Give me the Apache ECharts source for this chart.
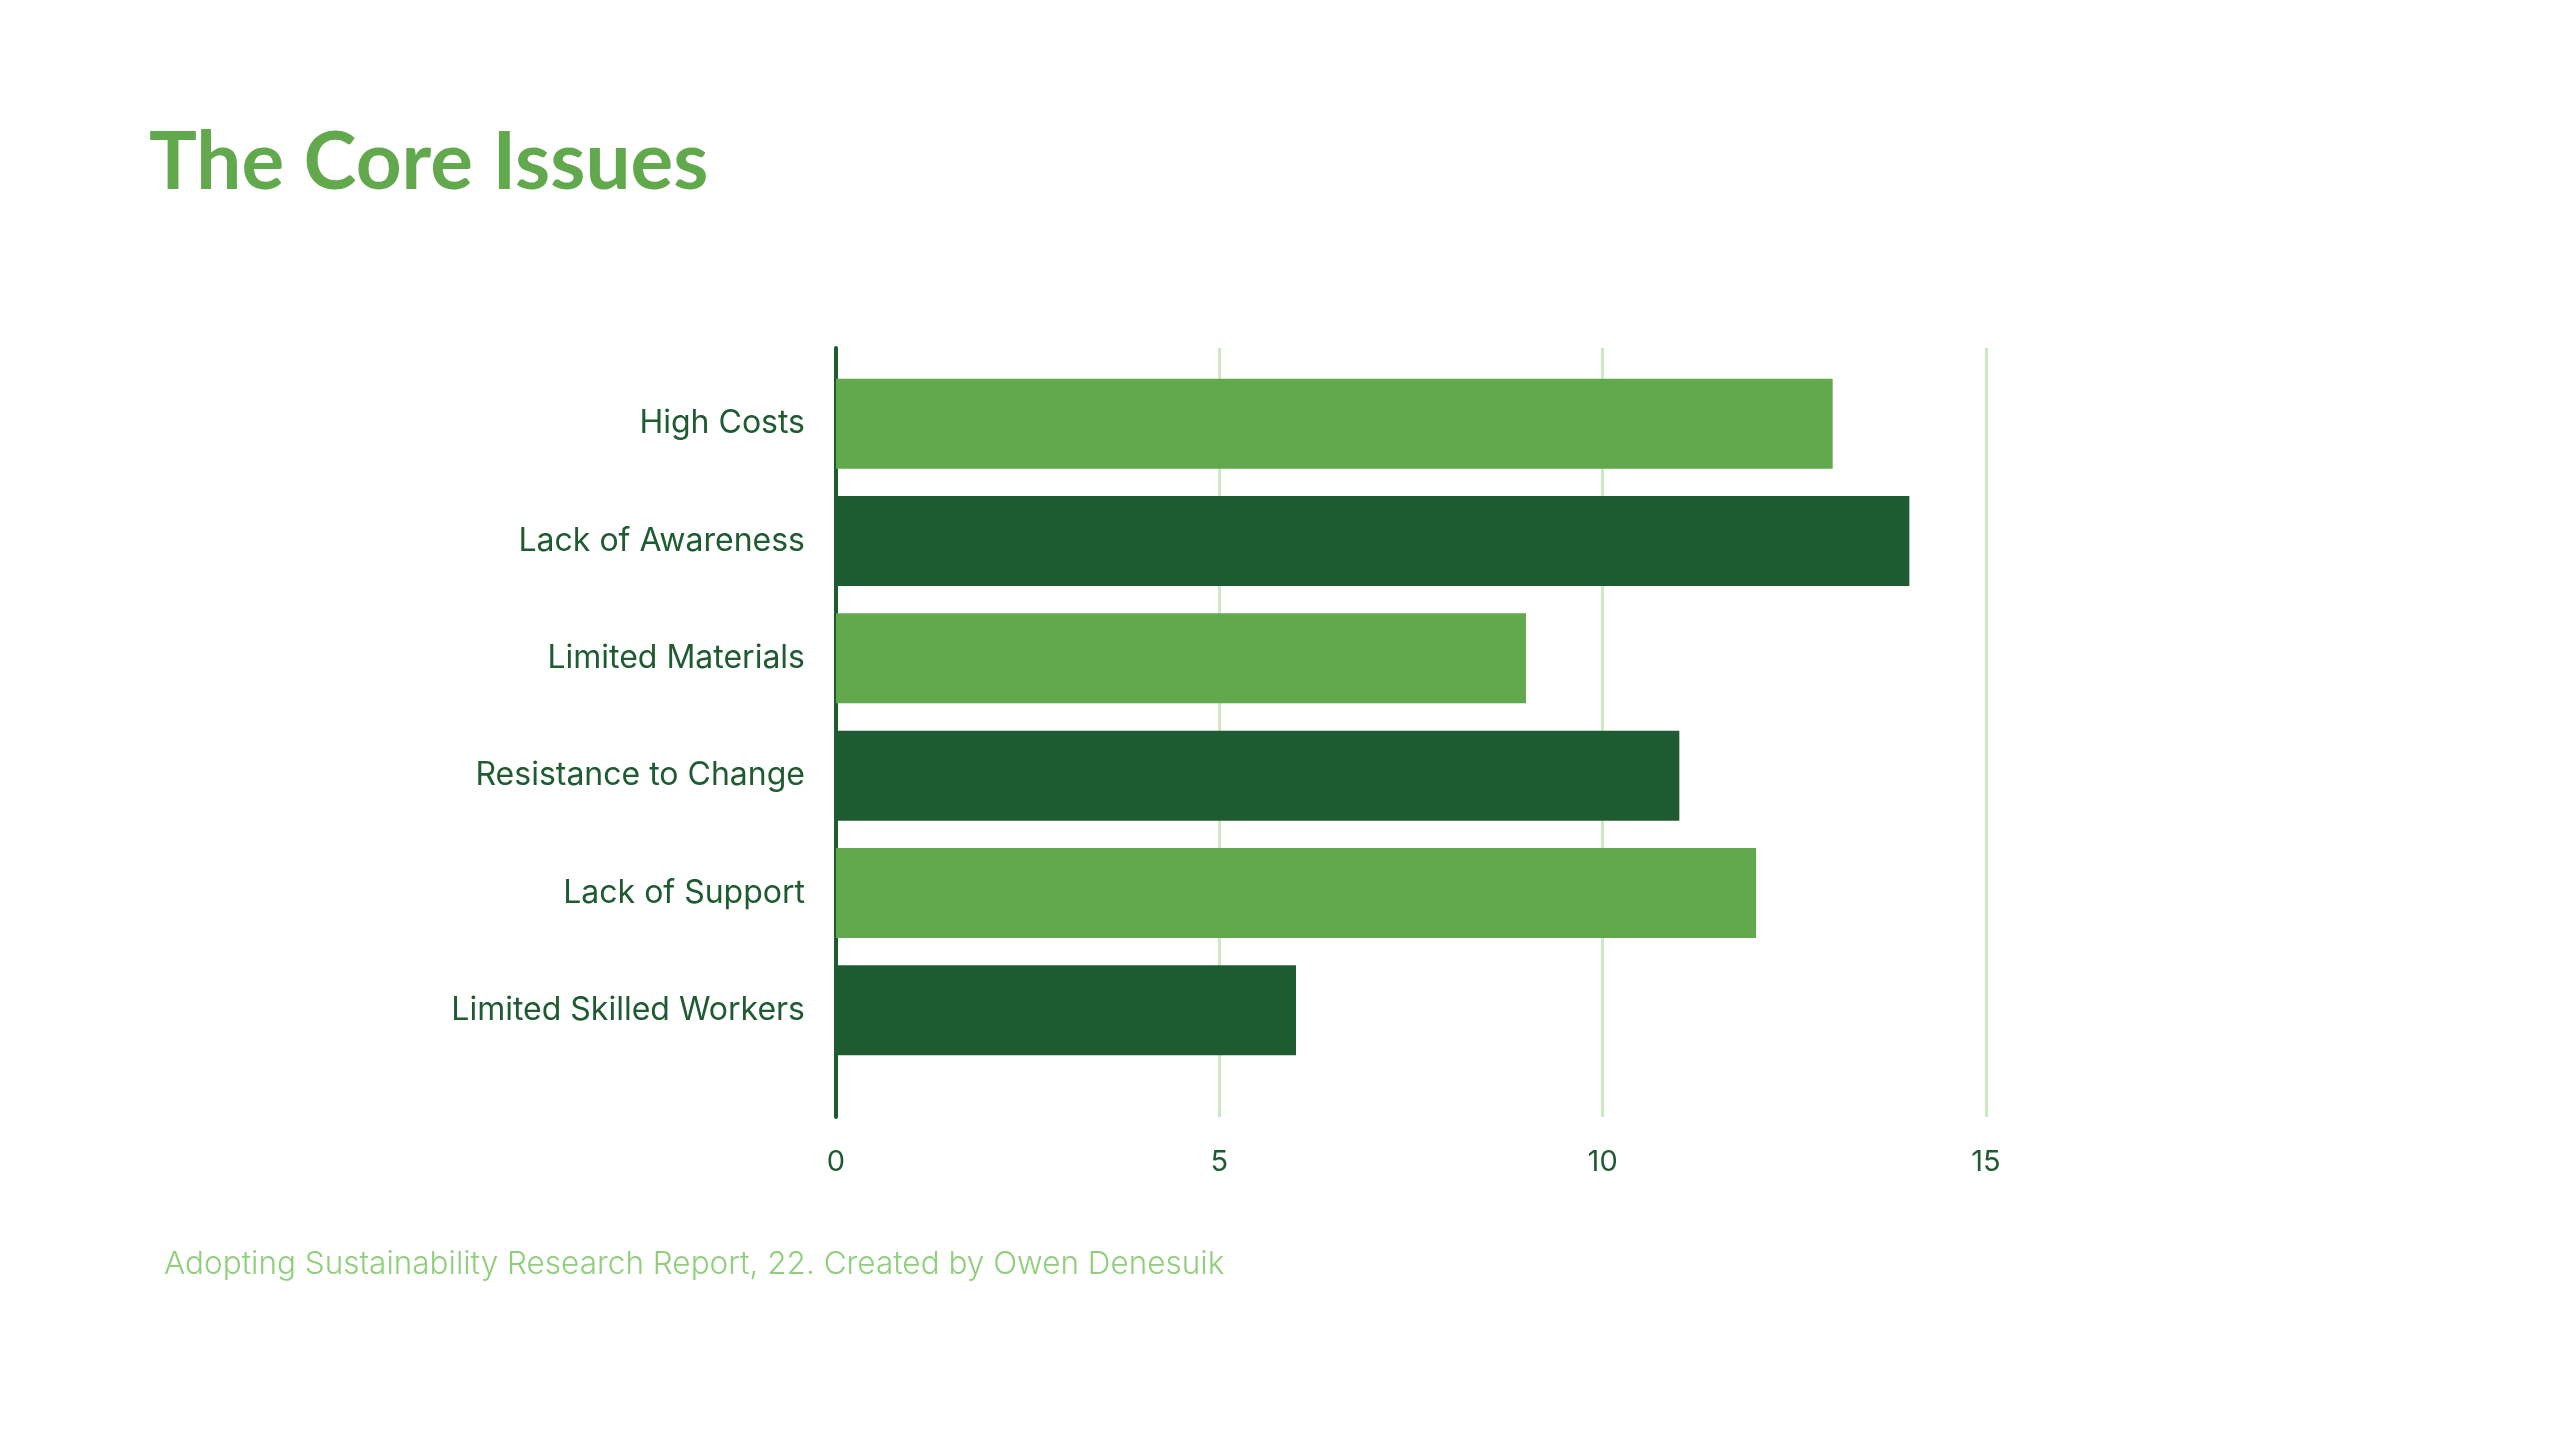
<!DOCTYPE html>
<html>
<head>
<meta charset="utf-8">
<script src="https://cdn.jsdelivr.net/npm/echarts@6/dist/echarts.min.js"></script>
<style>
  html, body { margin: 0; padding: 0; background: #ffffff; }
  #chart { width: 2560px; height: 1440px; }
</style>
</head>
<body>
<div id="chart"></div>
<script>
// data
const categories = ['High Costs', 'Lack of Awareness', 'Limited Materials',
    'Resistance to Change', 'Lack of Support', 'Limited Skilled Workers'];
const values = [13, 14, 9, 11, 12, 6];
const xTicks = [0, 5, 10, 15];

const lightGreen = '#62a94d';
const darkGreen = '#1e5b30';

const chart = echarts.init(document.getElementById('chart'));
const option = {
    backgroundColor: '#ffffff',
    animation: false,
    title: [{
        text: 'The Core Issues',
        left: 144,
        top: 118,
        textStyle: {
            fontFamily: 'Lato',
            fontWeight: 700,
            fontSize: 80,
            color: '#62a94d'
        }
    }, {
        text: 'Adopting Sustainability Research Report, 22. Created by Owen Denesuik',
        left: 159,
        top: 1244,
        textStyle: {
            fontFamily: 'Inter',
            fontWeight: 300,
            fontSize: 31.5,
            color: '#8fcf7b'
        }
    }],
    grid: [
        // frame: gridlines, axis line, tick labels
        { left: 836, right: 574, top: 348, bottom: 323 },
        // bars sit in a slightly shorter band inside the frame
        { left: 836, right: 574, top: 365, bottom: 371 }
    ],
    xAxis: [{
        gridIndex: 0,
        type: 'value',
        min: xTicks[0],
        max: xTicks[xTicks.length - 1],
        interval: 5,
        axisLine: { show: false },
        axisTick: { show: false },
        splitLine: {
            lineStyle: { color: '#cde8c5', width: 3 }
        },
        axisLabel: {
            margin: 31,
            fontFamily: 'Inter',
            fontSize: 29,
            color: darkGreen
        }
    }, {
        gridIndex: 1,
        type: 'value',
        min: xTicks[0],
        max: xTicks[xTicks.length - 1],
        show: false
    }],
    yAxis: [{
        gridIndex: 0,
        type: 'value',
        min: 0,
        max: 1,
        axisLine: {
            show: true,
            lineStyle: { color: darkGreen, width: 4 }
        },
        axisTick: { show: false },
        axisLabel: { show: false },
        splitLine: { show: false }
    }, {
        gridIndex: 1,
        type: 'category',
        inverse: true,
        data: categories,
        axisLine: { show: false },
        axisTick: { show: false },
        axisLabel: {
            margin: 31,
            fontFamily: 'Inter',
            fontSize: 32,
            color: darkGreen
        }
    }],
    series: [{
        type: 'bar',
        xAxisIndex: 1,
        yAxisIndex: 1,
        data: values,
        barWidth: 90,
        z: 3,
        itemStyle: {
            color: p => (p.dataIndex % 2 === 0 ? lightGreen : darkGreen)
        }
    }]
};
chart.setOption(option);
</script>
</body>
</html>
